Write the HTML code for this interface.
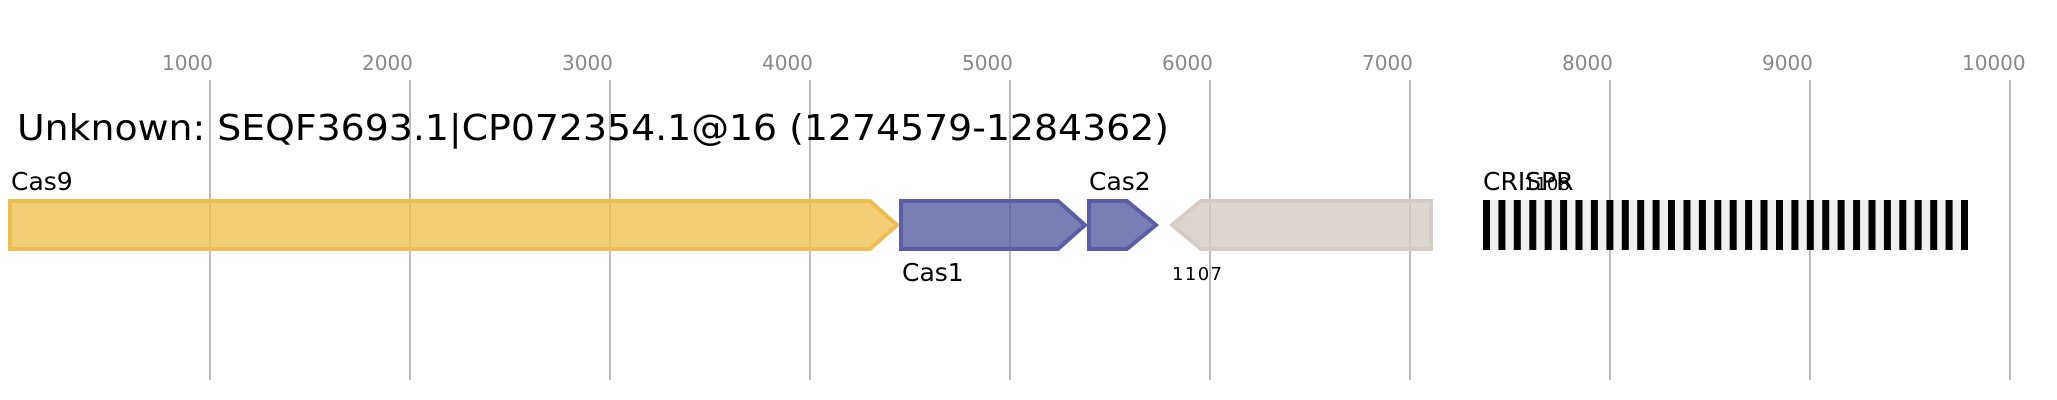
<!DOCTYPE html>
<html><head><meta charset="utf-8"><style>html,body{margin:0;padding:0;background:#fff}svg{display:block}</style></head>
<body>
<svg width="2057" height="400" viewBox="0 0 2057 400" xmlns="http://www.w3.org/2000/svg" font-family="DejaVu Sans, Liberation Sans, sans-serif">
<g stroke="#bbbbbb" stroke-width="2">
<line x1="210" y1="80" x2="210" y2="380"/><line x1="410" y1="80" x2="410" y2="380"/>
<line x1="610" y1="80" x2="610" y2="380"/><line x1="810" y1="80" x2="810" y2="380"/>
<line x1="1010" y1="80" x2="1010" y2="380"/><line x1="1210" y1="80" x2="1210" y2="380"/>
<line x1="1410" y1="80" x2="1410" y2="380"/><line x1="1610" y1="80" x2="1610" y2="380"/>
<line x1="1810" y1="80" x2="1810" y2="380"/><line x1="2010" y1="80" x2="2010" y2="380"/>
</g>
<g fill="#888" font-size="20">
<text x="162" y="70">1000</text><text x="362" y="70">2000</text><text x="562" y="70">3000</text>
<text x="762" y="70">4000</text><text x="962" y="70">5000</text><text x="1162" y="70">6000</text>
<text x="1362" y="70">7000</text><text x="1562" y="70">8000</text><text x="1762" y="70">9000</text>
<text x="1962" y="70">10000</text>
</g>
<text x="17" y="140" font-size="36" fill="#000" textLength="1152" lengthAdjust="spacingAndGlyphs">Unknown: SEQF3693.1|CP072354.1@16 (1274579-1284362)</text>
<g stroke-width="4" stroke-linejoin="miter">
<polygon points="10,201 870,201 897,225 870,249 10,249" fill="#eec052" fill-opacity="0.8" stroke="#eebd4d"/>
<polygon points="901,201 1058,201 1085,225 1058,249 901,249" fill="#5a5ca3" fill-opacity="0.8" stroke="#5b5ea6"/>
<polygon points="1089,201 1127,201 1156,225 1127,249 1089,249" fill="#5a5ca3" fill-opacity="0.8" stroke="#5b5ea6"/>
<polygon points="1431,201 1201,201 1172,225 1201,249 1431,249" fill="#d3cac4" fill-opacity="0.8" stroke="#d6ccc4"/>
</g>
<rect x="1483" y="200" width="485" height="50" fill="#f0f0f0"/>
<g fill="#000">
<rect x="1483" y="200" width="7" height="50"/><rect x="1498.4" y="200" width="7" height="50"/><rect x="1513.8" y="200" width="7" height="50"/><rect x="1529.3" y="200" width="7" height="50"/>
<rect x="1544.7" y="200" width="7" height="50"/><rect x="1560.1" y="200" width="7" height="50"/><rect x="1575.5" y="200" width="7" height="50"/><rect x="1590.9" y="200" width="7" height="50"/>
<rect x="1606.4" y="200" width="7" height="50"/><rect x="1621.8" y="200" width="7" height="50"/><rect x="1637.2" y="200" width="7" height="50"/><rect x="1652.6" y="200" width="7" height="50"/>
<rect x="1668" y="200" width="7" height="50"/><rect x="1683.5" y="200" width="7" height="50"/><rect x="1698.9" y="200" width="7" height="50"/><rect x="1714.3" y="200" width="7" height="50"/>
<rect x="1729.7" y="200" width="7" height="50"/><rect x="1745.1" y="200" width="7" height="50"/><rect x="1760.5" y="200" width="7" height="50"/><rect x="1776" y="200" width="7" height="50"/>
<rect x="1791.4" y="200" width="7" height="50"/><rect x="1806.8" y="200" width="7" height="50"/><rect x="1822.2" y="200" width="7" height="50"/><rect x="1837.6" y="200" width="7" height="50"/>
<rect x="1853.1" y="200" width="7" height="50"/><rect x="1868.5" y="200" width="7" height="50"/><rect x="1883.9" y="200" width="7" height="50"/><rect x="1899.3" y="200" width="7" height="50"/>
<rect x="1914.7" y="200" width="7" height="50"/><rect x="1930.2" y="200" width="7" height="50"/><rect x="1945.6" y="200" width="7" height="50"/><rect x="1961" y="200" width="7" height="50"/>
</g>
<g fill="#000" font-size="25">
<text x="11" y="190">Cas9</text>
<text x="902" y="281">Cas1</text>
<text x="1089" y="190">Cas2</text>
<text x="1483" y="190">CRISPR</text>
</g>
<text x="1524" y="190" font-size="18" fill="#000">1108</text>
<text x="1172" y="280" font-size="18" fill="#000" textLength="50">1107</text>
</svg>
</body></html>
